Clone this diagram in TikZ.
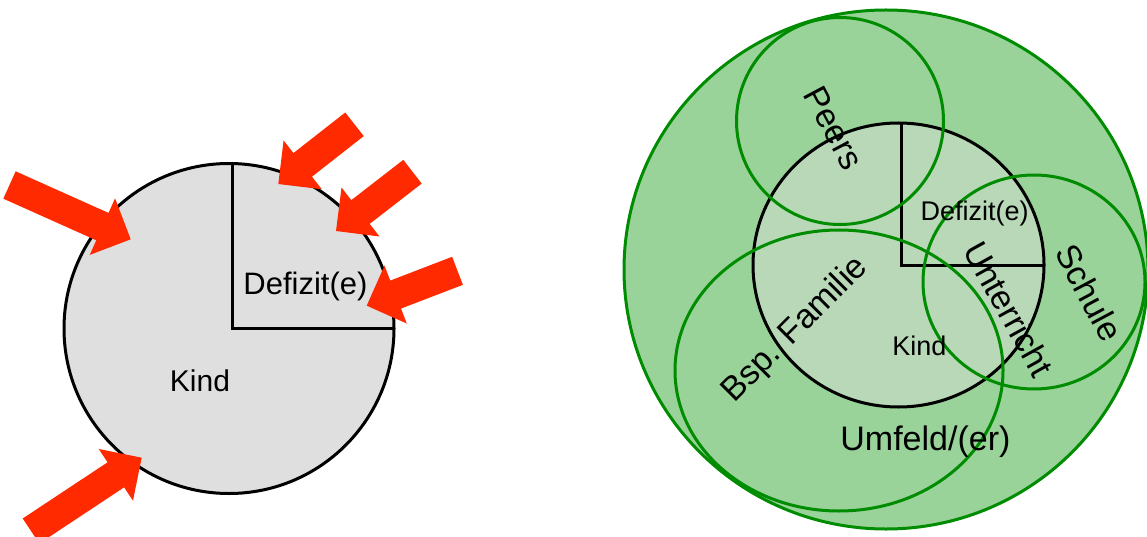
\documentclass[tikz,border=0pt]{standalone}
\usepackage{fontspec}
\setmainfont{Liberation Sans}
\usetikzlibrary{calc}
\definecolor{arrred}{RGB}{255,42,0}
\definecolor{kgray}{RGB}{223,223,223}
\definecolor{envgreen}{RGB}{153,211,153}
\definecolor{kidgreen}{RGB}{184,216,184}
\definecolor{linegreen}{RGB}{0,140,0}
\tikzset{
  arrowfill/.style={fill=arrred},
  blackline/.style={draw=black, line width=3pt},
  greenline/.style={draw=linegreen, line width=3pt},
  txtL/.style={inner sep=0pt, font=\fontsize{31}{37}\selectfont, text height=22pt, text depth=0pt},
  txtKL/.style={inner sep=0pt, font=\fontsize{30}{36}\selectfont, text height=21.5pt, text depth=0pt},
  txtB/.style={inner sep=0pt, font=\fontsize{34}{40}\selectfont, text height=24.3pt, text depth=0pt},
  txtS/.style={inner sep=0pt, font=\fontsize{27}{32}\selectfont, text height=19.4pt, text depth=0pt},
}
\newcommand\redarrow[3]{%
  \coordinate (#1-t) at (#2);
  \coordinate (#1-p) at (#3);
  \coordinate (#1-b) at ($(#1-p)!31pt!(#1-t)$);
  \fill[arrowfill] ($(#1-t)!15pt!90:(#1-p)$) -- ($(#1-b)!15pt!90:(#1-p)$) -- ($(#1-b)!31pt!90:(#1-p)$) -- (#1-p) -- ($(#1-b)!31pt!-90:(#1-p)$) -- ($(#1-b)!15pt!-90:(#1-p)$) -- ($(#1-t)!15pt!-90:(#1-p)$) -- cycle;}
\begin{document}
\begin{tikzpicture}[x=1pt,y=-1pt]
\useasboundingbox (0,0) rectangle (1147,537);
% ---------- left diagram ----------
\coordinate (lc) at (229,328.5);
\filldraw[fill=kgray, blackline] (lc) circle[radius=165];
\coordinate (lq) at (232,328);
\draw[blackline] (232,164) -- (lq) -- (394,328);
\node[txtL] (ldef) at (305.5,283) {Defizit(e)};
\node[txtKL] (lkind) at (200,381) {Kind};
\redarrow{a1}{9.5,185}{130.7,239.3}
\redarrow{a2}{354.5,124.3}{278.3,184}
\redarrow{a3}{412.5,171.7}{336,231}
\redarrow{a4}{457.5,270.8}{366.7,305.7}
\redarrow{a5}{31,531}{141.7,457.7}
% ---------- right diagram ----------
\filldraw[fill=envgreen, greenline] (886,269.5) circle[x radius=262, y radius=259.5];
\filldraw[fill=kidgreen, blackline] (898.5,265) circle[x radius=145.5, y radius=142];
\draw[blackline] (901,123) -- (901,265) -- (1043,265);
\draw[greenline] (840,121) circle[radius=103.5];
\draw[greenline] (1034,282) circle[x radius=111, y radius=107];
\draw[greenline] (839,370.5) circle[x radius=164, y radius=140.5];
\node[txtS] (rdef) at (974.5,211.3) {Defizit(e)};
\node[txtS] (rkind) at (919.3,346) {Kind};
\node[txtB] (umf) at (925.4,438) {Umfeld/(er)};
\node[txtB, rotate=-62] (peers) at (834.3,127.7) {Peers};
\node[txtB, rotate=-62] (schule) at (1089.2,292.5) {Schule};
\node[txtB, rotate=-61] (unt) at (1009.2,309.2) {Unterricht};
\node[txtB, rotate=45] (fam) at (793.1,327.7) {Bsp. Familie};
\end{tikzpicture}
\end{document}
